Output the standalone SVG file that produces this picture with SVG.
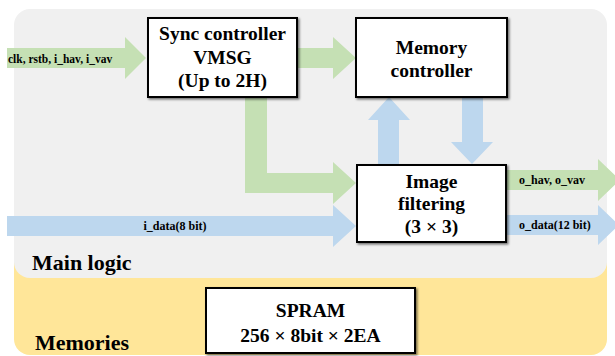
<svg xmlns="http://www.w3.org/2000/svg" width="615" height="356" viewBox="0 0 615 356">
  <defs>
    <filter id="sh" x="-10%" y="-10%" width="130%" height="130%">
      <feDropShadow dx="1.5" dy="1.5" stdDeviation="0.8" flood-color="#000" flood-opacity="0.55"/>
    </filter>
  </defs>
  <style>
    .box { fill: #ffffff; stroke: #000000; stroke-width: 2; filter: url(#sh); }
    .bt { font-family: "Liberation Serif", "Times New Roman", serif; font-weight: bold; font-size: 19.5px; fill: #000; text-anchor: middle; }
    .st { font-family: "Liberation Serif", "Times New Roman", serif; font-weight: bold; font-size: 12px; fill: #000; }
    .big { font-family: "Liberation Serif", "Times New Roman", serif; font-weight: bold; font-size: 22px; fill: #000; }
    .g { fill: #c5e0b4; }
    .b { fill: #bdd7ee; }
  </style>
  <rect id="memories-area" x="14" y="240" width="593" height="115" rx="16" fill="#ffe699"/>
  <rect id="main-logic-area" x="14" y="9" width="593" height="269" rx="16" fill="#f0f0f0"/>
  <text class="big" x="32" y="270">Main logic</text>
  <text class="big" x="35" y="350">Memories</text>

  <g id="connectors">
    <polygon class="g" points="7,48 125,48 125,37 146,58 125,79 125,68 7,68"/>
    <polygon class="g" points="298,48 333,48 333,37 356,58 333,79 333,68 298,68"/>
    <polygon class="g" points="245,97 267,97 267,173 333,173 333,162 356,183 333,204 333,193 245,193"/>
    <polygon class="b" points="7,216 333,216 333,205 356,226 333,247 333,236 7,236"/>
    <polygon class="b" points="378,165 378,120 368,120 389,97 410,120 399,120 399,165"/>
    <polygon class="b" points="462,97 483,97 483,142 493,142 472,164 451,142 462,142"/>
    <polygon class="g" points="507,170 598,170 598,159 620,180 598,201 598,190 507,190"/>
    <polygon class="b" points="507,215 598,215 598,205 619,225 598,245 598,235 507,235"/>
    <text class="st" x="8" y="63" style="font-size:11.5px">clk, rstb, i_hav, i_vav</text>
    <text class="st" x="175" y="230" text-anchor="middle">i_data(8 bit)</text>
    <text class="st" x="519" y="184">o_hav, o_vav</text>
    <text class="st" x="519" y="229">o_data(12 bit)</text>
  </g>

  <g id="sync-controller">
    <rect class="box" x="148" y="18" width="149" height="79"/>
    <text class="bt" x="222.5" y="40">Sync controller</text>
    <text class="bt" x="222.5" y="64">VMSG</text>
    <text class="bt" x="222.5" y="87">(Up to 2H)</text>
  </g>
  <g id="memory-controller">
    <rect class="box" x="356" y="18" width="151" height="79"/>
    <text class="bt" x="431.5" y="54">Memory</text>
    <text class="bt" x="431.5" y="77">controller</text>
  </g>
  <g id="image-filtering">
    <rect class="box" x="357" y="165" width="149" height="77"/>
    <text class="bt" x="431.5" y="188">Image</text>
    <text class="bt" x="431.5" y="210">filtering</text>
    <text class="bt" x="431.5" y="233">(3 × 3)</text>
  </g>
  <g id="spram">
    <rect class="box" x="206" y="288" width="209" height="65"/>
    <text class="bt" x="310.5" y="317">SPRAM</text>
    <text class="bt" x="310.5" y="342">256 × 8bit × 2EA</text>
  </g>
</svg>
